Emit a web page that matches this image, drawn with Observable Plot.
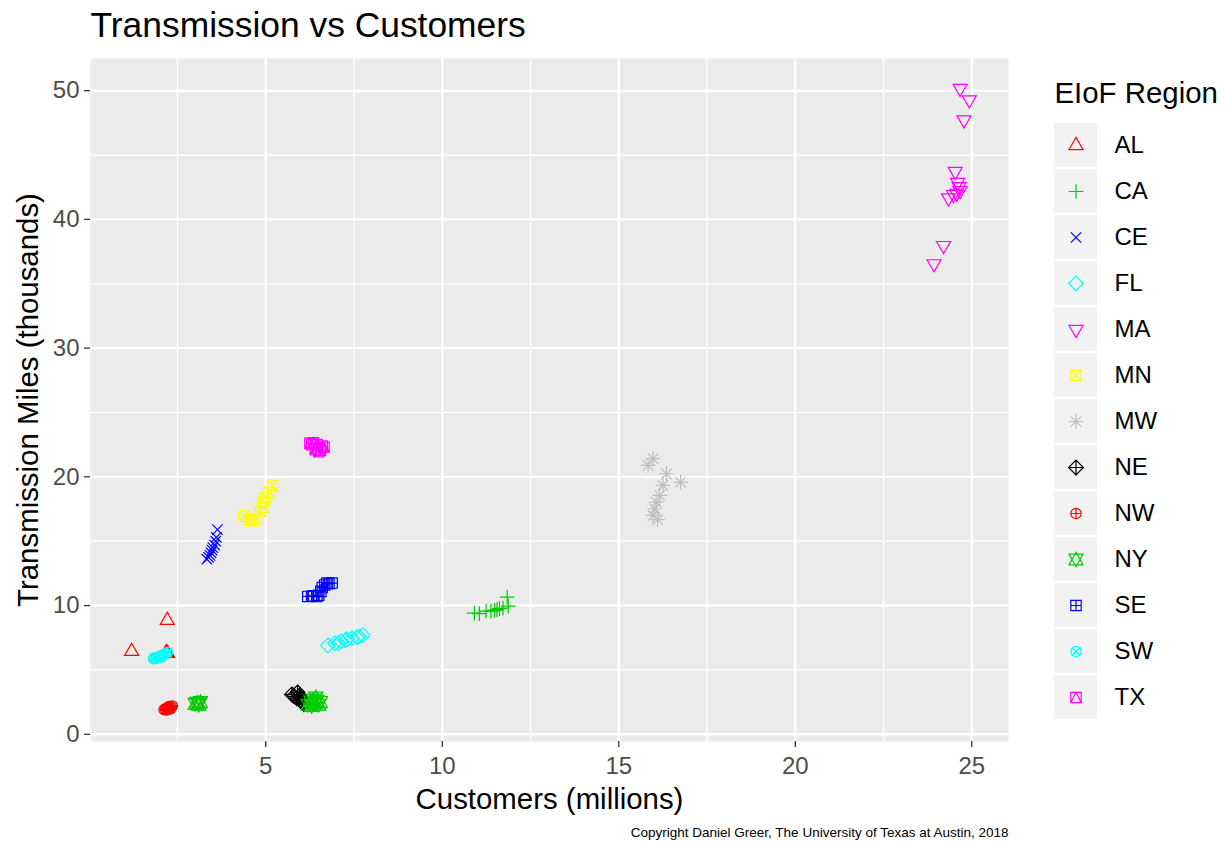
<!DOCTYPE html>
<html><head><meta charset="utf-8">
<script src="https://cdn.jsdelivr.net/npm/d3@7"></script>
<script src="https://cdn.jsdelivr.net/npm/@observablehq/plot@0.6"></script>
<style>
body{margin:0;background:#fff;font-family:"Liberation Sans",Arial,sans-serif;}
#wrap{position:relative;width:1225px;height:844px;overflow:hidden;}
#main{position:absolute;left:0;top:0;}
#legend{position:absolute;left:1030px;top:0;}
</style></head><body><div id="wrap"><div id="main"></div><div id="legend"></div></div>
<script>
// ---- data (customers in millions, transmission miles in thousands) ----
const regions = ["AL","CA","CE","FL","MA","MN","MW","NE","NW","NY","SE","SW","TX"];
const regionColors = ["#FF0000","#00CD00","#0000FF","#00FFFF","#FF00FF","#FFFF00","#BEBEBE","#000000","#FF0000","#00CD00","#0000FF","#00FFFF","#FF00FF"];
const AL = [[1.20,6.44],[2.21,8.85],[2.20,6.30],[2.18,6.35],[2.22,6.28]];
const CA = [[10.91,9.42],[11.05,9.37],[11.24,9.57],[11.38,9.57],[11.48,9.63],[11.55,9.68],[11.62,9.76],[11.72,9.81],[11.87,9.96],[11.84,10.66]];
const CE = [[3.33,13.6],[3.38,13.75],[3.42,13.9],[3.45,14.1],[3.48,14.3],[3.50,14.5],[3.55,14.7],[3.58,15.0],[3.60,15.3],[3.63,15.9]];
const FL = [[6.76,6.91],[6.96,7.07],[7.05,7.07],[7.13,7.22],[7.25,7.30],[7.30,7.38],[7.44,7.45],[7.58,7.53],[7.64,7.60],[7.75,7.69]];
const MA = [[24.67,50.18],[24.93,49.28],[24.78,47.73],[24.53,43.73],[24.60,42.88],[24.64,42.55],[24.67,42.24],[24.57,42.03],[24.48,41.93],[24.34,41.67],[24.20,37.97],[23.93,36.55]];
const MN = [[4.38,16.95],[4.53,16.67],[4.60,16.60],[4.72,16.75],[4.85,17.30],[4.91,17.65],[4.93,18.04],[5.00,18.42],[5.09,18.81],[5.19,19.33]];
const MW = [[15.97,21.41],[15.83,20.89],[16.35,20.24],[16.75,19.59],[16.25,19.33],[16.16,18.56],[16.06,18.04],[16.02,17.52],[15.97,17.00],[16.10,16.67]];
const NE = [[5.74,3.10],[5.90,3.26],[5.95,3.00],[5.99,2.87],[6.02,2.60],[6.05,2.45],[6.08,2.33],[5.88,2.80],[5.80,2.95]];
const NW = [[2.12,1.92],[2.16,1.95],[2.20,1.90],[2.24,2.00],[2.28,2.05],[2.30,1.98],[2.33,2.10],[2.26,2.15],[2.20,2.05],[2.35,2.20]];
const NY = [[3.00,2.35],[3.05,2.45],[3.10,2.40],[3.15,2.50],[3.10,2.30],[6.20,2.30],[6.28,2.55],[6.35,2.70],[6.40,2.40],[6.45,2.60],[6.50,2.30],[6.55,2.50],[6.30,2.20],[6.42,2.85]];
const SE = [[6.19,10.71],[6.30,10.72],[6.36,10.75],[6.45,10.70],[6.50,10.80],[6.56,11.10],[6.60,11.40],[6.67,11.60],[6.73,11.75],[6.79,11.70],[6.88,11.75]];
const SW = [[1.82,5.88],[1.86,5.95],[1.90,5.90],[1.95,6.00],[2.00,6.05],[2.03,6.00],[2.08,6.12],[2.12,6.20],[2.17,6.28],[2.22,6.37]];
const TX = [[6.25,22.60],[6.30,22.50],[6.35,22.65],[6.45,22.50],[6.60,22.40],[6.65,22.30],[6.40,22.10],[6.50,21.95],[6.55,22.05],[6.45,22.20]];
const xTicks = [5,10,15,20,25];
const xMinor = [2.5,7.5,12.5,17.5,22.5];
const yTicks = [0,10,20,30,40,50];
const yMinor = [5,15,25,35,45];

const seriesByRegion = {AL,CA,CE,FL,MA,MN,MW,NE,NW,NY,SE,SW,TX};
const points = regions.flatMap(r => seriesByRegion[r].map(([c,m]) => ({region:r, customers:c, miles:m})));

// ---- R-style point shapes (pch 2..14) ----
const T0=1.5551, T1=1.3468, T2=0.7776;
const rad = s => Math.sqrt(s/Math.PI);
function sq(c,a){c.moveTo(-a,-a);c.lineTo(a,-a);c.lineTo(a,a);c.lineTo(-a,a);c.closePath();}
function circ(c,R){c.moveTo(R,0);c.arc(0,0,R,0,2*Math.PI);}
function plus(c,a){c.moveTo(-a,0);c.lineTo(a,0);c.moveTo(0,-a);c.lineTo(0,a);}
function cross(c,a){c.moveTo(-a,-a);c.lineTo(a,a);c.moveTo(-a,a);c.lineTo(a,-a);}
function dia(c,a){c.moveTo(0,-a);c.lineTo(a,0);c.lineTo(0,a);c.lineTo(-a,0);c.closePath();}
const shapes = [
  {draw(c,s){const R=rad(s);c.moveTo(0,-T0*R);c.lineTo(T1*R,T2*R);c.lineTo(-T1*R,T2*R);c.closePath();}}, // 2
  {draw(c,s){plus(c,Math.SQRT2*rad(s));}}, // 3
  {draw(c,s){cross(c,rad(s));}}, // 4
  {draw(c,s){dia(c,Math.SQRT2*rad(s));}}, // 5
  {draw(c,s){const R=rad(s);c.moveTo(0,T0*R);c.lineTo(T1*R,-T2*R);c.lineTo(-T1*R,-T2*R);c.closePath();}}, // 6
  {draw(c,s){const R=rad(s);sq(c,R);cross(c,R);}}, // 7
  {draw(c,s){const R=rad(s);cross(c,R);plus(c,Math.SQRT2*R);}}, // 8
  {draw(c,s){const a=Math.SQRT2*rad(s);dia(c,a);plus(c,a);}}, // 9
  {draw(c,s){const R=rad(s);circ(c,R);plus(c,R);}}, // 10
  {draw(c,s){const R=rad(s),r=T0*R*0.9,yc=0.5*(T2*R+T0*R)*0.9,xc=T1*R;
     c.moveTo(0,-r);c.lineTo(xc,yc);c.lineTo(-xc,yc);c.closePath();
     c.moveTo(0,r);c.lineTo(xc,-yc);c.lineTo(-xc,-yc);c.closePath();}}, // 11
  {draw(c,s){const R=rad(s);sq(c,R);plus(c,R);}}, // 12
  {draw(c,s){const R=rad(s);circ(c,R);cross(c,R/Math.SQRT2*1.15);}}, // 13
  {draw(c,s){const R=rad(s);sq(c,R);c.moveTo(-R,R);c.lineTo(0,-R);c.lineTo(R,R);}} // 14
];

const FONT = '"Liberation Sans", Arial, sans-serif';
const symR = 5.2;

const main = Plot.plot({
  width:1030, height:844,
  marginLeft:90, marginRight:22, marginTop:58, marginBottom:103,
  style:{fontFamily:FONT, background:"white", overflow:"visible"},
  x:{domain:[0.035,26.04], label:null},
  y:{domain:[-0.56,52.5], label:null},
  color:{domain:regions, range:regionColors},
  symbol:{domain:regions, range:shapes},
  marks:[
    Plot.frame({fill:"#EBEBEB", stroke:"none"}),
    Plot.gridX({ticks:xMinor, stroke:"white", strokeOpacity:1, strokeWidth:1.2}),
    Plot.gridY({ticks:yMinor, stroke:"white", strokeOpacity:1, strokeWidth:1.2}),
    Plot.gridX({ticks:xTicks, stroke:"white", strokeOpacity:1, strokeWidth:2.4}),
    Plot.gridY({ticks:yTicks, stroke:"white", strokeOpacity:1, strokeWidth:2.4}),
    Plot.axisX({ticks:xTicks, tickSize:6, tickPadding:9, fontSize:24, stroke:"#333333", fill:"#4D4D4D", strokeWidth:1.3, label:null}),
    Plot.axisY({ticks:yTicks, tickSize:6, tickPadding:5, fontSize:24, stroke:"#333333", fill:"#4D4D4D", strokeWidth:1.3, label:null}),
    Plot.dot(points, {x:"customers", y:"miles", symbol:"region", stroke:"region", fill:"none", r:symR, strokeWidth:1.2}),
    Plot.text(["Transmission vs Customers"], {frameAnchor:"top-left", dx:0, dy:-22, lineAnchor:"bottom", textAnchor:"start", fontSize:35.4, fill:"black"}),
    Plot.text(["Customers (millions)"], {frameAnchor:"bottom", dy:67, lineAnchor:"bottom", fontSize:29.4, fill:"black"}),
    Plot.text(["Transmission Miles (thousands)"], {frameAnchor:"left", dx:-53, rotate:-90, lineAnchor:"bottom", textAnchor:"middle", fontSize:29.4, fill:"black"}),
    Plot.text(["Copyright Daniel Greer, The University of Texas at Austin, 2018"], {frameAnchor:"bottom-right", dy:95, lineAnchor:"bottom", textAnchor:"end", fontSize:13.5, fill:"black"})
  ]
});
document.getElementById("main").appendChild(main);

const legend = Plot.plot({
  width:195, height:844, margin:0,
  style:{fontFamily:FONT, background:"white", overflow:"visible"},
  x:{domain:[0,195], range:[0,195], axis:null},
  y:{type:"band", domain:regions, range:[121,720], padding:0, axis:null},
  color:{domain:regions, range:regionColors},
  symbol:{domain:regions, range:shapes},
  marks:[
    Plot.barX(regions, {x1:24, x2:67, y:d=>d, fill:"#F2F2F2", insetTop:1, insetBottom:1}),
    Plot.dot(regions, {x:45.5, y:d=>d, symbol:d=>d, stroke:d=>d, fill:"none", r:symR, strokeWidth:1.2}),
    Plot.text(regions, {x:84, y:d=>d, text:d=>d, textAnchor:"start", fontSize:24, fill:"black"}),
    Plot.text(["EIoF Region"], {frameAnchor:"top-left", dx:24, dy:102, lineAnchor:"bottom", textAnchor:"start", fontSize:29.4, fill:"black"})
  ]
});
document.getElementById("legend").appendChild(legend);
</script></body></html>
